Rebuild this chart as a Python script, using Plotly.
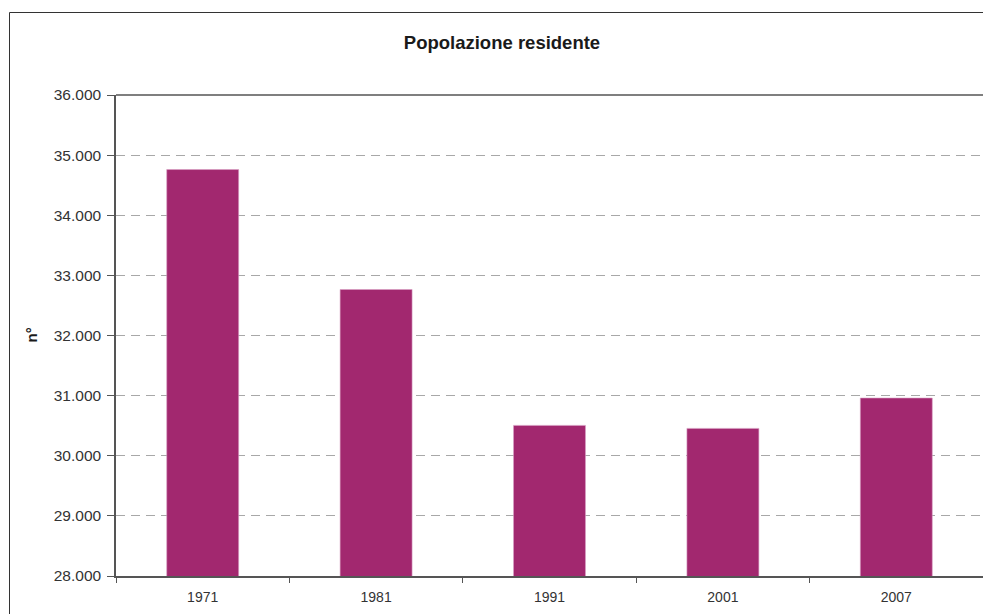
import plotly.graph_objects as go

years = ["1971", "1981", "1991", "2001", "2007"]
population = [34760, 32765, 30505, 30455, 30960]
y_ticks = [28000, 29000, 30000, 31000, 32000, 33000, 34000, 35000, 36000]

W, H = 983, 614
L, R, T, B = 116, 0, 95, 38

fig = go.Figure()
fig.add_trace(go.Bar(
    x=years, y=population,
    marker=dict(color="#A2286F", line=dict(color="#D9A0C4", width=0.6)),
    width=0.415,
    hoverinfo="x+y",
))

fig.update_layout(
    width=W, height=H,
    margin=dict(l=L, r=R, t=T, b=B, pad=0),
    paper_bgcolor="white", plot_bgcolor="white",
    separators=",.",
    showlegend=False,
    font=dict(family="Arial, Liberation Sans, sans-serif", size=12, color="#222"),
    title=dict(text="<b>Popolazione residente</b>", x=502 / W, xanchor="center",
               y=1 - 42.5 / H, yanchor="middle",
               font=dict(size=18.5, color="#1a1a1a")),
)

fig.update_xaxes(
    type="category",
    showline=True, linecolor="#555", linewidth=1.5,
    ticks="outside", ticklen=5, tickcolor="#555", tickson="boundaries",
    showgrid=False, tickfont=dict(size=14, color="#333"),
    ticklabelstandoff=7,
)
fig.update_yaxes(
    range=[28000, 36000], tickvals=y_ticks, tickformat=",d",
    showline=True, linecolor="#555", linewidth=1.5,
    ticks="outside", ticklen=7, tickcolor="#555",
    showgrid=True, gridcolor="#a8a8a8", gridwidth=1, griddash="9px,6px",
    zeroline=False,
    tickfont=dict(size=15.5, color="#333"),
    ticklabelstandoff=3,
)

# y axis title
fig.add_annotation(text="<b>n°</b>", xref="paper", yref="paper",
                   x=(31 - L) / (W - L - R), y=0.5, xanchor="center", yanchor="middle",
                   textangle=-90, showarrow=False,
                   font=dict(size=15, color="#1a1a1a"))

# top border of plot area
fig.add_shape(type="line", xref="paper", yref="paper", x0=0, x1=1, y0=1, y1=1,
              line=dict(color="#555", width=1.5), layer="above")
# outer chart frame
fig.add_shape(type="rect", xref="paper", yref="paper",
              x0=(9.5 - L) / (W - L - R), x1=1.05,
              y0=-0.2, y1=1 + (T - 12.5) / (H - T - B),
              line=dict(color="#333", width=1), layer="above")

fig.write_html("out.html")
